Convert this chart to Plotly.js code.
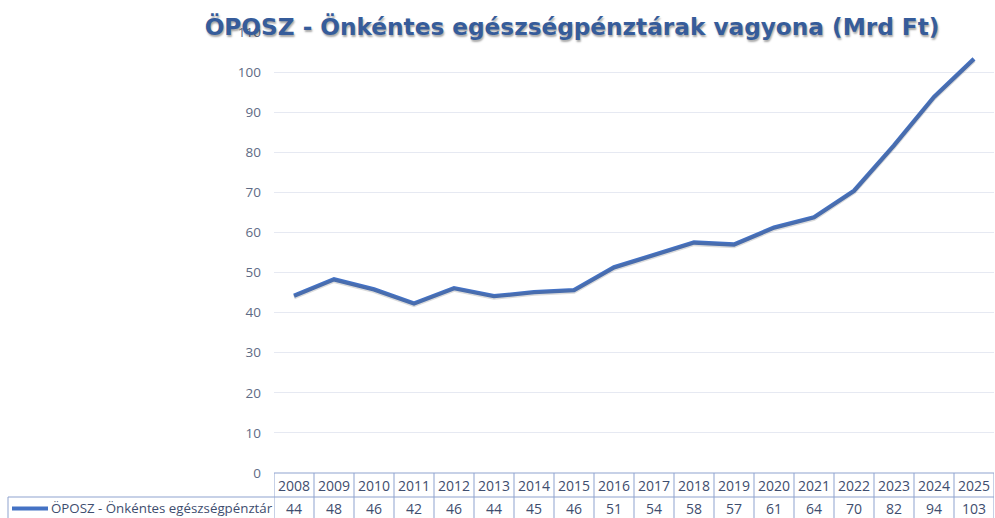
<!DOCTYPE html>
<html>
<head>
<meta charset="utf-8">
<script src="https://cdn.plot.ly/plotly-3.0.1.min.js"></script>
<style>html,body{margin:0;padding:0;background:#fff;}#chart{width:995px;height:518px;}</style>
</head>
<body>
<div id="chart"></div>
<script>
const years = [2008,2009,2010,2011,2012,2013,2014,2015,2016,2017,2018,2019,2020,2021,2022,2023,2024,2025];
const values = [44.2,48.3,45.8,42.3,46.1,44.1,45.1,45.6,51.3,54.3,57.5,57.0,61.2,63.8,70.4,81.7,93.8,103.3];
const seriesName = "ÖPOSZ - Önkéntes egészségpénztár";
const titleText = "ÖPOSZ - Önkéntes egészségpénztárak vagyona (Mrd Ft)";
const yTicks = [0,10,20,30,40,50,60,70,80,90,100,110];

const border = "#8FA3CF";
const textCol = "#3E4D6E";
const shapes = [];
const annotations = [];
const rowTop = 0, rowMid = -24/441, rowBot = -47/441;
const cellFont = {family:'Open Sans, sans-serif', size:14, color:textCol};
years.forEach((yr, i) => {
  shapes.push({type:'line', xref:'x', yref:'paper', x0:yr-0.5, x1:yr-0.5, y0:rowTop, y1:rowBot, line:{color:border,width:1}});
  annotations.push({xref:'x', yref:'paper', x:yr, y:(rowTop+rowMid)/2, text:String(yr), showarrow:false, font:cellFont, yanchor:'middle'});
  annotations.push({xref:'x', yref:'paper', x:yr, y:(rowMid+rowBot)/2, text:String(Math.round(values[i])), showarrow:false, font:cellFont, yanchor:'middle'});
});
const last = years[years.length-1];
shapes.push({type:'line', xref:'x', yref:'paper', x0:last+0.5, x1:last+0.5, y0:rowTop, y1:rowBot, line:{color:border,width:1}});
shapes.push({type:'line', xref:'x', yref:'paper', x0:years[0]-0.5, x1:last+0.5, y0:rowTop, y1:rowTop, line:{color:border,width:1}});
shapes.push({type:'line', xref:'paper', yref:'paper', x0:-266/720, x1:1, y0:rowMid, y1:rowMid, line:{color:border,width:1}});
shapes.push({type:'line', xref:'paper', yref:'paper', x0:-266/720, x1:-266/720, y0:rowMid, y1:rowBot, line:{color:border,width:1}});
shapes.push({type:'line', xref:'paper', yref:'paper', x0:-262/720, x1:-226/720, y0:-35.5/441, y1:-35.5/441, line:{color:'#4472C4',width:4}});
annotations.push({xref:'paper', yref:'paper', x:-225/720, y:(rowMid+rowBot)/2, xanchor:'left', yanchor:'middle', text:seriesName, showarrow:false, font:{family:'Open Sans, sans-serif', size:13.3, color:textCol}});

const layout = {
  width:995, height:518,
  margin:{l:274, r:1, t:32, b:45},
  paper_bgcolor:'#fff', plot_bgcolor:'#fff',
  showlegend:false,
  title:{text:'<b>'+titleText+'</b>', x:572/995, xanchor:'center', y:1-27/518, yanchor:'middle',
         font:{family:'DejaVu Sans, sans-serif', size:23.2, color:'#365C9A', shadow:'1px 1.5px 2px rgba(0,0,0,0.35)'}},
  xaxis:{range:[2007.5,2025.5], showticklabels:false, showgrid:false, zeroline:false, showline:false, ticks:''},
  yaxis:{range:[0,110], tickvals:yTicks, ticktext:yTicks.map(String), showgrid:true, gridcolor:'#E6E9F2', gridwidth:1, zeroline:false, showline:false, ticks:'', ticklabelstandoff:12, tickfont:{family:'Open Sans, sans-serif', size:13.5, color:'#5E6B85'}},
  yaxis2:{range:[0.35,110.35], overlaying:'y', visible:false},
  shapes:shapes, annotations:annotations
};
const shadow = {x:years, y:values, type:'scatter', mode:'lines', line:{color:'rgba(90,90,90,0.22)', width:4.5}, hoverinfo:'skip', showlegend:false, yaxis:'y2'};
const trace = {x:years, y:values, type:'scatter', mode:'lines', name:seriesName, line:{color:'#4472C4', width:4.3}, showlegend:false};
Plotly.newPlot('chart',[shadow, trace],layout,{displayModeBar:false,staticPlot:true});
</script>
</body>
</html>
